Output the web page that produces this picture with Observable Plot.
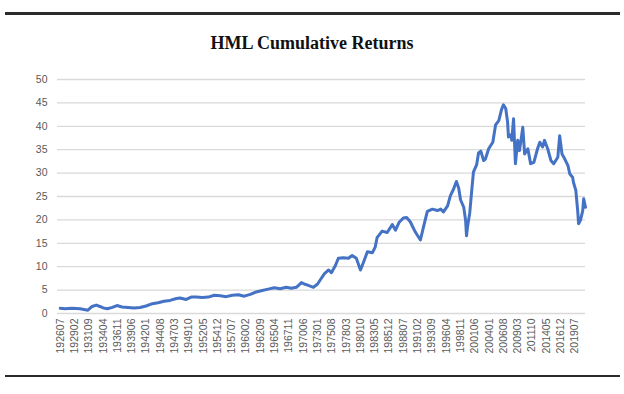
<!DOCTYPE html>
<html>
<head>
<meta charset="utf-8">
<script src="https://cdn.jsdelivr.net/npm/d3@7"></script>
<script src="https://cdn.jsdelivr.net/npm/@observablehq/plot@0.6"></script>
<style>
  html, body { margin: 0; padding: 0; background: #fff; }
  #wrap { position: relative; width: 624px; height: 394px; overflow: hidden; }
  .rule { position: absolute; left: 5px; width: 615px; background: #2b2b2b; }
  #title { position: absolute; top: 33px; left: 0; width: 624px; text-align: center;
           font-family: "Liberation Serif", "DejaVu Serif", serif; font-weight: bold; font-size: 18px; color: #111; }
  #chart { position: absolute; top: 60px; left: 0; }
</style>
</head>
<body>
<div id="wrap">
  <div class="rule" style="top:12px;height:3px;"></div>
  <div id="title">HML Cumulative Returns</div>
  <div id="chart"></div>
  <div class="rule" style="top:375px;height:2px;"></div>
</div>
<script>
const months = ["192607","192705","192808","193002","193107","193204","193301","193309","193404","193501","193512","193610","193709","193810","193911","194012","194201","194303","194403","194504","194605","194707","194803","194904","195003","195102","195203","195304","195405","195506","195607","195708","195809","195910","196011","196112","196301","196402","196503","196604","196705","196804","196903","197002","197008","197105","197204","197301","197307","197404","197501","197507","197604","197610","197709","197808","197904","198001","198010","198104","198201","198212","198306","198310","198409","198508","198607","198702","198710","198807","198902","198910","199009","199108","199203","199211","199310","199409","199504","199510","199607","199701","199708","199802","199807","199811","199906","199910","199912","200002","200007","200011","200103","200110","200202","200207","200301","200305","200312","200409","200503","200510","200604","200608","200701","200705","200707","200712","200802","200806","200810","200903","200907","201002","201006","201101","201107","201202","201210","201303","201309","201401","201408","201503","201509","201606","201610","201703","201707","201804","201808","201902","201904","201909","202001","202003","202007","202012","202102","202106"];
const values = [1.1,1.0,1.1,1.0,0.7,1.5,1.8,1.5,1.2,1.0,1.3,1.7,1.4,1.3,1.2,1.3,1.6,2.1,2.3,2.6,2.8,3.2,3.3,3.0,3.5,3.5,3.4,3.5,3.9,3.8,3.6,3.9,4.0,3.7,4.1,4.6,4.9,5.2,5.5,5.3,5.6,5.4,5.6,6.6,6.3,6.0,5.6,6.3,7.2,8.5,9.3,8.7,10.3,11.8,11.9,11.8,12.4,11.8,9.3,10.8,13.2,13.0,14.2,16.2,17.6,17.3,19.0,17.8,19.5,20.4,20.5,19.6,17.4,15.7,18.6,21.8,22.3,22.0,22.3,21.7,23.0,25.2,26.6,28.2,26.8,24.3,22.7,19.9,16.6,18.4,21.5,26.0,30.2,31.8,34.3,34.7,32.7,33.0,35.2,36.6,40.3,41.2,43.6,44.6,43.8,41.0,37.7,38.2,37.0,41.6,32.0,37.0,34.8,39.8,34.1,35.2,32.0,32.3,35.2,36.6,35.6,37.0,35.2,32.7,32.0,33.4,38.0,34.1,33.4,31.6,29.8,29.1,28.0,26.3,22.0,19.2,19.9,22.0,24.5,22.7];
const tickLabels = ["192607","192902","193109","193404","193611","193906","194201","194408","194703","194910","195205","195412","195707","196002","196209","196504","196711","197006","197301","197508","197803","198010","198305","198512","198807","199102","199309","199604","199811","200106","200401","200608","200903","201110","201405","201612","201907"];
const yTicks = [0,5,10,15,20,25,30,35,40,45,50];

const parse = d3.utcParse("%Y%m");
const fmt = d3.utcFormat("%Y%m");
const data = months.map((m, i) => ({date: parse(m), value: values[i]}));
const tickDates = tickLabels.map(parse);

const chart = Plot.plot({
  width: 624,
  height: 310,
  marginTop: 19,
  marginBottom: 57,
  marginLeft: 57,
  marginRight: 39,
  style: {fontFamily: "Liberation Sans, Arial, sans-serif", fontSize: "10.5px", color: "#595959", background: "#fff"},
  x: {type: "utc", domain: [parse("192601"), parse("202106")]},
  y: {domain: [0, 50]},
  marks: [
    Plot.gridY(yTicks, {stroke: "#d9d9d9", strokeOpacity: 1, strokeWidth: 1.3}),
    Plot.axisY(yTicks, {tickSize: 0, tickPadding: 10, label: null, fill: "#595959"}),
    Plot.axisX(tickDates, {tickSize: 0, tickPadding: 5, tickRotate: -90, tickFormat: fmt, label: null, fill: "#595959"}),
    Plot.line(data, {x: "date", y: "value", stroke: "#4472C4", strokeWidth: 3, strokeLinejoin: "round"})
  ]
});
document.getElementById("chart").appendChild(chart);
</script>
</body>
</html>
